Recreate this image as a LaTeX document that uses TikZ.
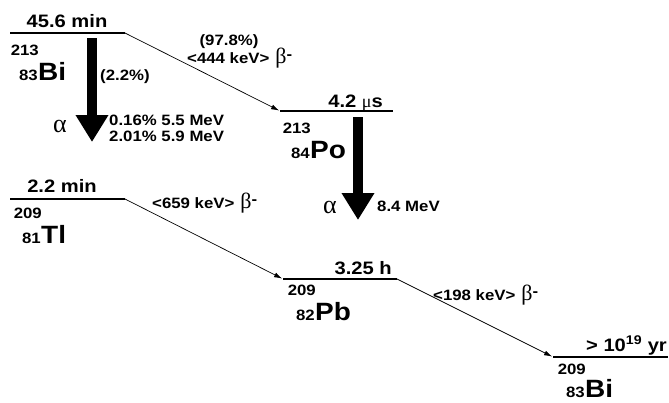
\documentclass[tikz,border=0pt]{standalone}
\usepackage{fontspec}
\setmainfont{Liberation Sans}[FakeStretch=1.12]
\newfontfamily\greekfont{Liberation Serif}
\usetikzlibrary{arrows.meta}

\newcommand{\betam}{{\mdseries\greekfont\fontsize{22}{22}\selectfont β}\raisebox{4pt}{-}}

\tikzset{
  level/.style={line width=1.6pt},
  beta/.style={line width=0.7pt, -{Latex[length=8pt,width=5pt]}, shorten >=1pt},
  alpha/.style={line width=10pt, -{Triangle[width=31pt,length=27pt]}},
  halflife/.style={font=\bfseries\fontsize{18}{18}\selectfont, inner sep=0pt},
  energy/.style={font=\bfseries\fontsize{15}{15}\selectfont, inner sep=0pt},
  elem/.style={font=\bfseries\fontsize{25}{25}\selectfont, inner sep=0pt, anchor=base west},
  nucnum/.style={font=\bfseries\fontsize{15}{15}\selectfont, inner sep=0pt, anchor=base east},
  greek/.style={font=\greekfont\fontsize{26}{26}\selectfont, inner sep=0pt, anchor=base}
}

\begin{document}
\begin{tikzpicture}[x=1pt, y=1pt]
    \useasboundingbox (0,0) rectangle (669,-402);

    % levels
    \coordinate (bi213l) at (10,-33);   \coordinate (bi213r) at (125,-33);
    \coordinate (po213l) at (280,-111); \coordinate (po213r) at (393,-111);
    \coordinate (tl209l) at (10,-199);  \coordinate (tl209r) at (125,-199);
    \coordinate (pb209l) at (283,-279); \coordinate (pb209r) at (397,-279);
    \coordinate (bi209l) at (553,-357); \coordinate (bi209r) at (668,-357);

    \draw[level] (bi213l) -- (bi213r);
    \draw[level] (po213l) -- (po213r);
    \draw[level] (tl209l) -- (tl209r);
    \draw[level] (pb209l) -- (pb209r);
    \draw[level] (bi209l) -- (bi209r);

    % half-lives
    \node[halflife, anchor=base] (tbi213) at (67,-27) {45.6 min};
    \node[halflife, anchor=base east] (tpo213) at (383,-107) {4.2 {\mdseries\greekfont μ}s};
    \node[halflife, anchor=base] (ttl209) at (62,-192) {2.2 min};
    \node[halflife, anchor=base east] (tpb209) at (392,-274) {3.25 h};
    \node[halflife, anchor=base east] (tbi209) at (667,-351) {> 10\textsuperscript{19} yr};

    % nuclides
    \node[elem] (bi213) at (38,-80) {Bi};
    \node[nucnum] (bi213a) at ([shift={(1,25)}]bi213.base west) {213};
    \node[nucnum] (bi213z) at (bi213.base west) {83};

    \node[elem] (po213) at (310,-158) {Po};
    \node[nucnum] (po213a) at ([shift={(1,25)}]po213.base west) {213};
    \node[nucnum] (po213z) at (po213.base west) {84};

    \node[elem] (tl209) at (41,-243) {Tl};
    \node[nucnum] (tl209a) at ([shift={(1,25)}]tl209.base west) {209};
    \node[nucnum] (tl209z) at (tl209.base west) {81};

    \node[elem] (pb209) at (315,-320) {Pb};
    \node[nucnum] (pb209a) at ([shift={(1,25)}]pb209.base west) {209};
    \node[nucnum] (pb209z) at (pb209.base west) {82};

    \node[elem] (bi209) at (585,-397) {Bi};
    \node[nucnum] (bi209a) at ([shift={(1,23)}]bi209.base west) {209};
    \node[nucnum] (bi209z) at (bi209.base west) {83};

    % alpha decays
    \coordinate (abi213s) at (92,-38);  \coordinate (abi213e) at (92,-142);
    \coordinate (apo213s) at (358,-117); \coordinate (apo213e) at (358,-220);
    \draw[alpha] (abi213s) -- (abi213e);
    \draw[alpha] (apo213s) -- (apo213e);

    \node[greek] (albi) at (60,-132) {α};
    \node[energy, anchor=base west] (brbi) at (100,-80) {(2.2\%)};
    \node[energy, anchor=base west] (ebi1) at (109,-125) {0.16\% 5.5 MeV};
    \node[energy, anchor=base west] (ebi2) at (109,-141) {2.01\% 5.9 MeV};

    \node[greek] (alpo) at (330,-213) {α};
    \node[energy, anchor=base west] (epo) at (377,-211) {8.4 MeV};

    % beta decays
    \draw[beta] (bi213r) -- (po213l);
    \draw[beta] (tl209r) -- (pb209l);
    \draw[beta] (pb209r) -- (bi209l);

    \node[energy, anchor=base] (brpo) at (229,-45) {(97.8\%)};
    \node[energy, anchor=base west] (bebi) at (187,-63) {<444 keV>\hspace{6pt}\betam};
    \node[energy, anchor=base west] (betl) at (152,-208) {<659 keV>\hspace{6pt}\betam};
    \node[energy, anchor=base west] (bepb) at (433,-300) {<198 keV>\hspace{6pt}\betam};
\end{tikzpicture}
\end{document}
